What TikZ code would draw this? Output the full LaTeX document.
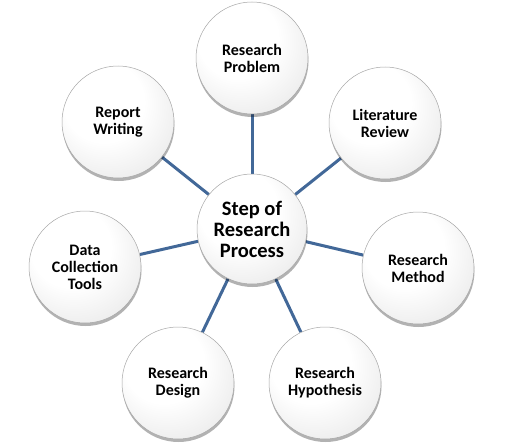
\documentclass[tikz,border=0pt]{standalone}
\usepackage{fontspec}
\setmainfont{Carlito}
\usetikzlibrary{shadows,backgrounds}
\pgfdeclareradialshading{ballshade}{\pgfpoint{-10bp}{14bp}}{color(0bp)=(white); color(18bp)=(white); color(38bp)=(black!10); color(50bp)=(black!30)}
\definecolor{linkblue}{RGB}{66,104,152}
\begin{document}
\begin{tikzpicture}[x=1pt,y=-1pt,
  ball/.style={circle, minimum size=112pt, inner sep=0pt, shading=ballshade,
    draw=black!35, line width=0.5pt,
    drop shadow={shadow xshift=0.5pt, shadow yshift=-3pt, opacity=0.3, fill=black},
    align=center, font=\bfseries\fontsize{16}{17}\selectfont},
  hub/.style={ball, minimum size=110pt, font=\bfseries\fontsize{20.5}{21}\selectfont},
  link/.style={draw=linkblue, line width=3pt}]
\useasboundingbox (0,0) rectangle (505,444);
\node[hub] (c) at (252,229) {Step of\\Research\\Process};
\node[ball] (p1) at (252,58) {Research\\Problem};
\node[ball] (p2) at (385,123) {Literature\\Review};
\node[ball] (p3) at (418,268) {Research\\Method};
\node[ball] (p4) at (325,383) {Research\\Hypothesis};
\node[ball] (p5) at (178,383) {Research\\Design};
\node[ball] (p6) at (85,267) {Data\\Collection\\Tools};
\node[ball] (p7) at (118,122) {Report\\Writing};
\begin{scope}[on background layer]
\foreach \n in {p1,p2,p3,p4,p5,p6,p7}
  \draw[link] (c) -- (\n);
\end{scope}
\end{tikzpicture}
\end{document}
